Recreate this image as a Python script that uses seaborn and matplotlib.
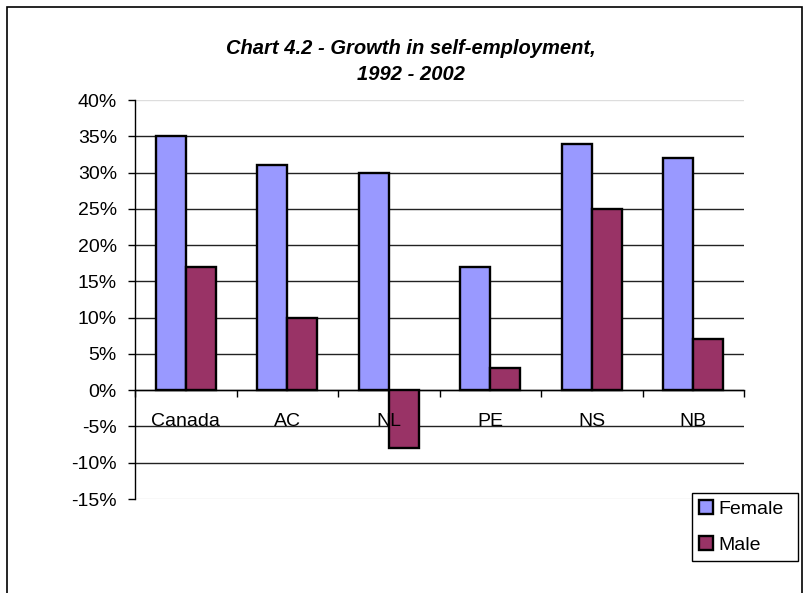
import numpy as np
import pandas as pd
import matplotlib
matplotlib.use("Agg")
import matplotlib.pyplot as plt
import seaborn as sns
from matplotlib.patches import Rectangle, Patch

# ---- data ----
regions = ["Canada", "AC", "NL", "PE", "NS", "NB"]
female = [35, 31, 30, 17, 34, 32]
male = [17, 10, -8, 3, 25, 7]
series = ["Female", "Male"]
colors = ["#9999FF", "#993366"]
yticks = [-15, -10, -5, 0, 5, 10, 15, 20, 25, 30, 35, 40]
ytick_labels = [f"{v}%" for v in yticks]
title_lines = ["Chart 4.2 - Growth in self-employment,", "1992 - 2002"]

sns.set_theme(style="white")
plt.rcParams["font.family"] = ["Liberation Sans", "DejaVu Sans"]
plt.rcParams["text.color"] = "black"

df = pd.DataFrame({
    "Region": regions * 2,
    "Growth": female + male,
    "Sex": [series[0]] * len(regions) + [series[1]] * len(regions),
})

W, H = 805, 593
fig = plt.figure(figsize=(W / 100, H / 100), dpi=100)
ax = fig.add_axes([135 / W, 1 - 499 / H, (744 - 135) / W, (499 - 100) / H])

sns.barplot(data=df, x="Region", y="Growth", hue="Sex", order=regions,
            hue_order=series, palette=colors, saturation=1, width=0.59,
            edgecolor="black", linewidth=1.7, legend=False, ax=ax, zorder=3)

ax.set_xlim(-0.5, len(regions) - 0.5)
ax.set_ylim(yticks[0], yticks[-1])
ax.set_yticks(yticks)
ax.set_yticklabels(ytick_labels)
ax.set_xlabel("")
ax.set_ylabel("")

ax.set_axisbelow(True)
ax.yaxis.grid(True, color="#222222", linewidth=1)
for t, gl in zip(ax.get_yticks(), ax.yaxis.get_gridlines()):
    if t in (yticks[0], yticks[-1]):
        gl.set_color("#dddddd")

for s in ("top", "right"):
    ax.spines[s].set_visible(False)
ax.spines["bottom"].set_position(("data", 0))
ax.spines["bottom"].set_color("black")
ax.spines["bottom"].set_linewidth(1)
ax.spines["left"].set_color("black")
ax.spines["left"].set_linewidth(1)

ax.set_xticks(np.arange(-0.5, len(regions), 1), minor=True)
ax.tick_params(axis="x", which="major", length=0, labelbottom=False)
ax.tick_params(axis="x", which="minor", length=5, width=1, direction="out",
               color="black", bottom=True)
ax.tick_params(axis="y", which="major", length=5, width=1, direction="out",
               color="black", left=True, pad=8, labelsize=14, labelcolor="black")

# category labels drawn above the bars (as in the reference)
for i, name in enumerate(regions):
    ax.annotate(name, (i, 0), xytext=(0, -16.5), textcoords="offset points",
                ha="center", va="top", fontsize=14, color="black", zorder=6,
                annotation_clip=False)

handles = [Patch(facecolor=c, edgecolor="black", linewidth=1.7) for c in colors]
leg = fig.legend(handles, series, loc="upper left", mode="expand",
                 bbox_to_anchor=(692 / W, 1 - 561 / H, 106 / W, 68 / H),
                 borderaxespad=0,
                 fontsize=14, handlelength=0.75, handleheight=0.75,
                 handletextpad=0.25, labelspacing=0.95, borderpad=0.35,
                 frameon=True, fancybox=False, framealpha=1)
leg.get_frame().set_edgecolor("black")
leg.get_frame().set_linewidth(1)
for txt in leg.get_texts():
    txt.set_color("black")

fig.text(411 / W, 1 - 48 / H, title_lines[0], ha="center", va="center",
         fontsize=14.5, fontweight="bold", fontstyle="italic", color="black")
fig.text(411 / W, 1 - 75 / H, title_lines[1], ha="center", va="center",
         fontsize=14.5, fontweight="bold", fontstyle="italic", color="black")

fig.add_artist(Rectangle((7 / W, -0.05), (802 - 7) / W, 1.05 - 7 / H,
                         transform=fig.transFigure, fill=False,
                         edgecolor="black", linewidth=1.2))

fig.savefig("out.png", dpi=100)
